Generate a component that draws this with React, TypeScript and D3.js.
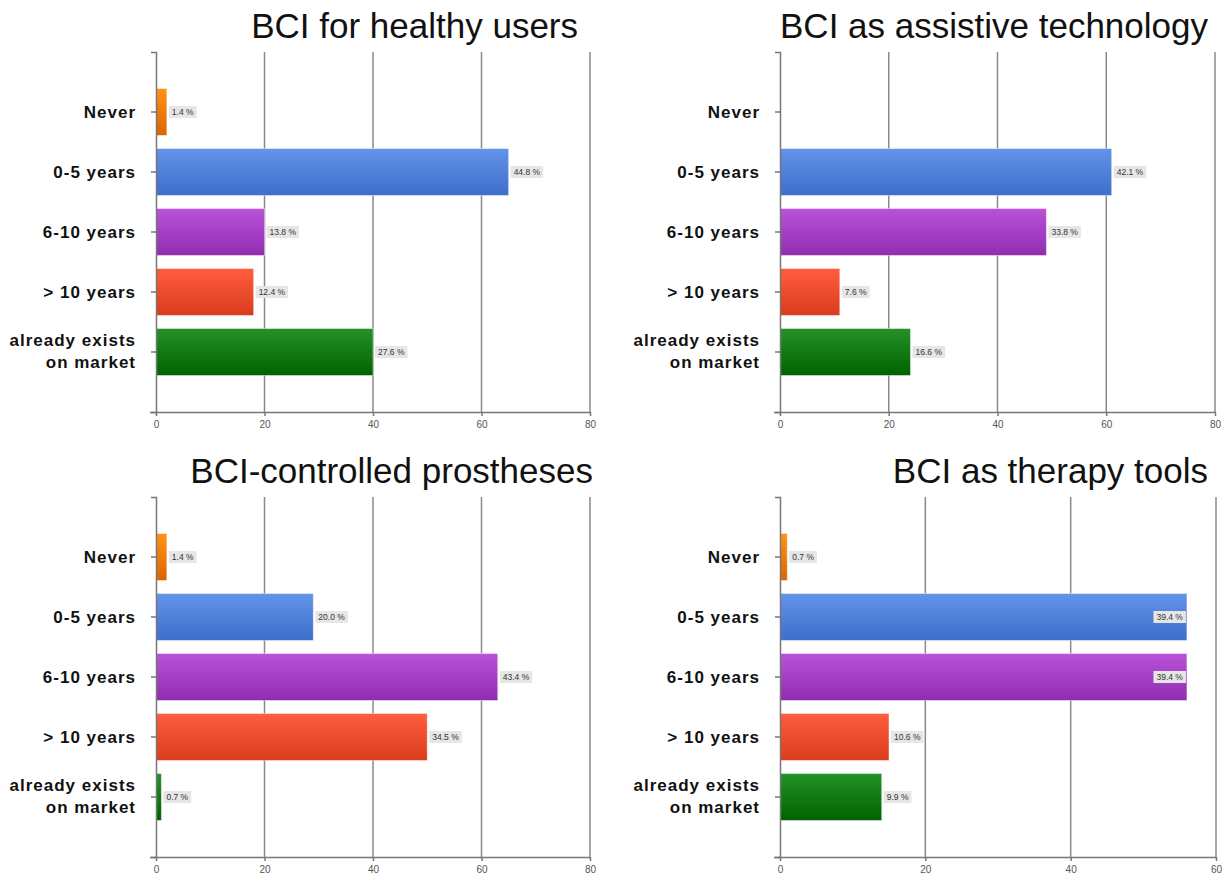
import { useEffect, useRef } from 'react';
import * as d3 from 'd3';

const categories = ['Never', '0-5 years', '6-10 years', '> 10 years', 'already exists\non market'];

// counts (bar lengths) and the percentage labels printed next to them
const healthyCounts = [2, 65, 20, 18, 40];
const healthyPct = ['1.4', '44.8', '13.8', '12.4', '27.6'];

const assistiveCounts = [0, 61, 49, 11, 24];
const assistivePct = [null, '42.1', '33.8', '7.6', '16.6'];

const prosthesesCounts = [2, 29, 63, 50, 1];
const prosthesesPct = ['1.4', '20.0', '43.4', '34.5', '0.7'];

const therapyCounts = [1, 56, 56, 15, 14];
const therapyPct = ['0.7', '39.4', '39.4', '10.6', '9.9'];

const ticks80 = [0, 20, 40, 60, 80];
const ticks60 = [0, 20, 40, 60];

// top / bottom colour of each bar gradient
const barColors = [
  ['#ff9414', '#dc6400'],
  ['#6294ea', '#3d6fcb'],
  ['#ba52da', '#8f2db0'],
  ['#ff5d3f', '#d93c1c'],
  ['#249226', '#006200'],
];

interface PanelProps {
  id: string;
  title: string;
  counts: number[];
  pct: (string | null)[];
  max: number;
  ticks: number[];
  x0: number;
  x1: number;
  yTop: number;
  yBot: number;
  labelX: number;
  titleX: number;
  titleY: number;
}

const Panel = ({ id, title, counts, pct, max, ticks, x0, x1, yTop, yBot, labelX, titleX, titleY }: PanelProps) => {
  const gRef = useRef<SVGGElement>(null);

  useEffect(() => {
    if (!gRef.current) return;
    const g = d3.select(gRef.current);
    g.selectAll('*').remove();

    const x = d3.scaleLinear().domain([0, max]).range([x0, x1]);
    const y = d3.scaleBand<number>()
      .domain(d3.range(categories.length))
      .range([yTop, yBot])
      .paddingInner(13 / 60)
      .paddingOuter((1 + 13 / 60) / 2);

    // gradients
    const defs = g.append('defs');
    barColors.forEach((c, i) => {
      const grad = defs.append('linearGradient')
        .attr('id', `${id}-grad-${i}`)
        .attr('x1', 0).attr('x2', 0).attr('y1', 0).attr('y2', 1);
      grad.append('stop').attr('offset', '0%').attr('stop-color', c[0]);
      grad.append('stop').attr('offset', '100%').attr('stop-color', c[1]);
    });

    // title
    g.append('text')
      .attr('x', titleX)
      .attr('y', titleY)
      .attr('text-anchor', 'end')
      .style('font-family', '"Liberation Sans", Arial, sans-serif')
      .style('font-size', '35px')
      .attr('fill', '#111')
      .text(title);

    // vertical grid lines
    g.selectAll('.grid')
      .data(ticks.slice(1))
      .enter()
      .append('line')
      .attr('x1', d => x(d)).attr('x2', d => x(d))
      .attr('y1', yTop).attr('y2', yBot)
      .attr('stroke', '#8a8a8a')
      .attr('stroke-width', 1.5);

    // bars
    g.selectAll('.bar')
      .data(counts)
      .enter()
      .append('rect')
      .attr('x', x(0))
      .attr('y', (_, i) => y(i)!)
      .attr('width', d => x(d) - x(0))
      .attr('height', y.bandwidth())
      .attr('fill', (_, i) => `url(#${id}-grad-${i})`)
      .attr('stroke', 'rgba(255,255,255,0.45)')
      .attr('stroke-width', 1);

    // value labels
    counts.forEach((d, i) => {
      const p = pct[i];
      if (p === null) return;
      const cy = y(i)! + y.bandwidth() / 2;
      const lbl = g.append('g');
      const txt = lbl.append('text')
        .attr('y', cy + 3)
        .style('font-family', '"Liberation Sans", Arial, sans-serif')
        .style('font-size', '8.5px')
        .attr('fill', '#333')
        .text(`${p} %`);
      const w = (txt.node() as SVGTextElement).getComputedTextLength() + 6;
      const inside = x(d) + w + 4 > x1;
      const bx = inside ? x(d) - w - 1 : x(d) + 2;
      txt.attr('x', bx + 3);
      lbl.insert('rect', 'text')
        .attr('x', bx).attr('y', cy - 6)
        .attr('width', w).attr('height', 12)
        .attr('fill', '#e6e6e6');
    });

    // y axis
    const yAxis = g.append('g')
      .attr('transform', `translate(${x0},0)`)
      .call(d3.axisLeft(y).tickSize(5).tickSizeOuter(5).tickFormat(() => ''));
    yAxis.selectAll('path, line').attr('stroke', '#777').attr('stroke-width', 1.5);

    // x axis
    const xAxis = g.append('g')
      .attr('transform', `translate(0,${yBot})`)
      .call(d3.axisBottom(x).tickValues(ticks).tickSize(4).tickSizeOuter(0).tickFormat(d3.format('d')));
    xAxis.selectAll('path, line').attr('stroke', '#777').attr('stroke-width', 1.5);
    xAxis.select('.domain').attr('d', `M${x0 - 6},0.5H${x1}`);
    xAxis.selectAll('text')
      .attr('y', 9)
      .attr('fill', '#555')
      .style('font-family', '"Liberation Sans", Arial, sans-serif')
      .style('font-size', '10px');

    // category labels
    categories.forEach((c, i) => {
      const cy = y(i)! + y.bandwidth() / 2;
      const lines = c.split('\n');
      const t = g.append('text')
        .attr('text-anchor', 'end')
        .style('font-family', '"Liberation Sans", Arial, sans-serif')
        .style('font-size', '17px')
        .style('font-weight', 'bold')
        .style('letter-spacing', '1px')
        .attr('fill', '#111');
      if (lines.length === 1) {
        t.append('tspan').attr('x', labelX).attr('y', cy + 6).text(lines[0]);
      } else {
        t.append('tspan').attr('x', labelX).attr('y', cy - 6).text(lines[0]);
        t.append('tspan').attr('x', labelX).attr('y', cy + 16).text(lines[1]);
      }
    });
  }, [id, title, counts, pct, max, ticks, x0, x1, yTop, yBot, labelX, titleX, titleY]);

  return <g ref={gRef} />;
};

export default function App() {
  return (
    <svg
      width={1231}
      height={878}
      style={{ position: 'absolute', left: 0, top: 0, background: '#fff' }}
    >
      <Panel id="p1" title="BCI for healthy users" counts={healthyCounts} pct={healthyPct}
        max={80} ticks={ticks80} x0={156} x1={590} yTop={52} yBot={412}
        labelX={136} titleX={578} titleY={38} />
      <Panel id="p2" title="BCI as assistive technology" counts={assistiveCounts} pct={assistivePct}
        max={80} ticks={ticks80} x0={780} x1={1215} yTop={52} yBot={412}
        labelX={760} titleX={1208} titleY={38} />
      <Panel id="p3" title="BCI-controlled prostheses" counts={prosthesesCounts} pct={prosthesesPct}
        max={80} ticks={ticks80} x0={156} x1={590} yTop={497} yBot={857}
        labelX={136} titleX={593} titleY={483} />
      <Panel id="p4" title="BCI as therapy tools" counts={therapyCounts} pct={therapyPct}
        max={60} ticks={ticks60} x0={780} x1={1216} yTop={497} yBot={857}
        labelX={760} titleX={1208} titleY={483} />
    </svg>
  );
}
